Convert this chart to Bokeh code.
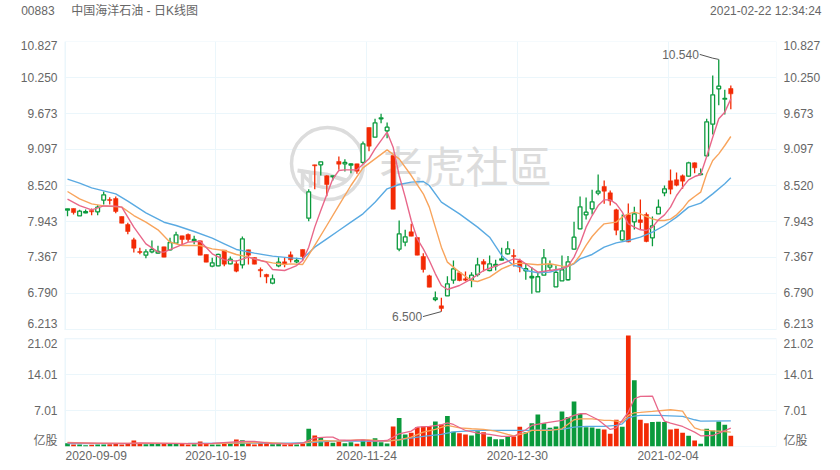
import numpy as np
from bokeh.plotting import figure
from bokeh.models import (Range1d, LinearAxis, FixedTicker, Grid, Label)
from bokeh.core.properties import value
from bokeh.embed import file_html
from bokeh.resources import INLINE

opens = [8.125,8.152,8.034,8.082,8.119,8.098,8.285,8.296,8.312,8.023,7.895,7.649,7.463,7.404,7.457,7.436,7.537,7.489,7.596,7.714,7.735,7.633,7.633,7.415,7.228,7.233,7.484,7.265,7.265,7.249,7.489,7.366,7.174,7.094,6.955,7.233,7.297,7.409,7.297,7.495,
7.997,8.851,8.851,8.675,8.664,8.905,8.867,8.846,8.867,8.889,9.449,9.294,9.588,9.396,9.001,7.500,7.612,7.778,7.687,7.383,7.073,6.694,6.592,6.753,7.004,7.121,7.025,7.004,7.094,7.303,7.158,7.233,7.324,7.425,7.399,7.313,7.154,7.042,6.817,7.084,7.212,6.897,6.993,7.010,
7.500,7.826,8.050,8.146,8.397,8.504,8.402,8.130,7.649,8.050,7.938,7.970,8.055,7.681,8.066,8.402,8.595,8.611,8.675,8.669,8.883,8.696,8.995,9.502,10.069,9.903,10.074]
highs = [8.146,8.152,8.130,8.135,8.152,8.205,8.424,8.333,8.344,8.023,7.922,7.681,7.521,7.500,7.639,7.553,7.537,7.681,7.778,7.714,7.751,7.714,7.633,7.415,7.361,7.425,7.484,7.383,7.319,7.703,7.489,7.366,7.206,7.105,7.094,7.372,7.372,7.463,7.361,7.495,
8.461,8.851,8.899,8.686,8.675,8.985,8.942,8.878,8.867,9.225,9.449,9.588,9.668,9.529,9.001,7.959,7.810,7.906,7.687,7.436,7.089,6.822,6.720,7.068,7.319,7.148,7.142,7.132,7.361,7.340,7.399,7.329,7.522,7.628,7.500,7.345,7.266,7.212,7.132,7.501,7.319,7.239,7.399,7.389,
7.938,8.344,8.328,8.450,8.696,8.600,8.440,8.146,8.055,8.232,8.178,8.296,8.087,8.023,8.296,8.520,8.776,8.728,8.696,8.899,8.888,8.792,9.588,10.282,10.540,10.052,10.122]
lows = [8.029,8.055,8.034,8.077,8.045,8.045,8.216,8.216,8.077,7.916,7.740,7.447,7.420,7.356,7.436,7.425,7.372,7.479,7.585,7.575,7.617,7.580,7.404,7.292,7.212,7.228,7.228,7.260,7.131,7.190,7.254,7.260,7.051,6.955,6.939,7.212,7.212,7.286,7.276,7.319,
7.949,8.461,8.680,8.349,8.600,8.771,8.744,8.718,8.707,8.867,9.070,9.294,9.519,9.278,8.141,7.468,7.548,7.708,7.404,7.126,6.891,6.667,6.500,6.753,6.945,6.987,6.987,6.891,7.062,7.142,7.148,7.158,7.319,7.415,7.222,7.132,7.010,6.785,6.817,7.084,7.148,6.897,6.993,7.000,
7.489,7.820,7.975,8.055,8.365,8.226,8.199,7.724,7.639,7.612,7.815,7.820,7.612,7.548,8.066,8.349,8.381,8.509,8.467,8.664,8.717,8.685,8.985,9.337,9.807,9.657,9.743]
closes = [8.146,8.087,8.109,8.103,8.098,8.173,8.370,8.280,8.103,7.916,7.783,7.516,7.447,7.457,7.495,7.463,7.372,7.607,7.730,7.655,7.655,7.655,7.404,7.292,7.281,7.415,7.260,7.340,7.148,7.666,7.404,7.260,7.153,7.057,7.025,7.292,7.254,7.329,7.319,7.383,
8.419,8.835,8.899,8.536,8.675,8.862,8.889,8.867,8.750,9.188,9.150,9.524,9.604,9.455,8.141,7.746,7.698,7.708,7.404,7.174,6.891,6.720,6.550,6.945,7.185,6.998,7.004,7.084,7.249,7.260,7.265,7.255,7.345,7.505,7.383,7.212,7.186,7.063,7.058,7.362,7.250,7.127,7.170,7.298,
7.692,8.178,8.093,8.258,8.429,8.429,8.274,7.804,7.794,7.617,8.066,7.927,7.623,7.874,8.173,8.467,8.461,8.525,8.589,8.883,8.803,8.707,9.540,9.972,10.111,9.914,9.988]
volume = [0.65,0.39,0.39,0.26,0.33,0.39,0.39,0.46,0.52,0.39,0.52,1.17,0.52,0.46,0.52,0.65,0.52,0.52,0.52,0.52,0.39,0.46,0.98,0.52,0.39,0.39,0.52,0.52,1.37,1.24,0.65,0.39,0.65,0.65,0.46,0.52,0.39,0.52,0.39,0.52,
3.46,2.15,1.70,0.91,0.72,1.04,0.65,0.85,0.52,1.30,0.98,1.63,0.85,0.59,3.91,5.54,2.35,2.67,3.78,3.91,3.98,4.89,4.30,5.93,2.87,2.61,2.35,2.15,3.00,2.80,1.89,1.43,1.43,1.83,1.96,3.85,2.80,4.56,6.26,4.56,3.65,3.91,6.85,5.74,
8.80,6.39,3.78,3.72,3.46,3.33,2.48,5.22,3.85,21.65,12.91,5.22,4.56,4.76,4.82,4.76,3.33,3.46,2.67,2.09,1.17,0.52,3.46,3.13,4.89,4.24,2.09]

ma5_idx = [0,2,4,6,8,9,11,13,15,16,18,20,22,24,26,28,30,33,34,36,37,38,39,40,41,42,43,44,45,46,48,50,51,53,54,55,56,57,58,59,60,61,62,63,65,67,69,72,74,75,76,78,80,82,83,84,85,86,87,88,89,90,91,92,93,94,95,96,97,98,99,100,101,102,103,104,105,106,107,108,109,110]
ma5 = [8.301,8.199,8.130,8.194,8.189,8.173,7.852,7.585,7.457,7.452,7.532,7.612,7.628,7.425,7.329,7.308,7.372,7.292,7.174,7.158,7.196,7.238,7.319,7.532,7.853,8.120,8.376,8.627,8.760,8.771,8.771,8.947,9.107,9.374,9.134,8.680,8.333,7.959,7.666,7.505,7.319,7.105,6.918,6.854,6.918,7.025,7.158,7.265,7.345,7.330,7.266,7.132,7.159,7.186,7.228,7.373,7.586,7.852,8.039,8.199,8.290,8.290,8.226,8.093,7.906,7.852,7.810,7.799,7.852,7.970,8.050,8.173,8.360,8.493,8.611,8.664,8.696,8.985,9.294,9.588,9.695,9.908]
ma10_idx = [0,2,4,6,9,11,13,15,17,19,22,24,26,28,30,32,34,36,37,39,41,43,45,47,49,51,53,55,57,59,60,61,62,63,65,67,68,70,72,74,75,78,80,82,83,84,85,86,87,88,89,91,92,93,94,95,96,97,98,99,100,101,102,103,104,105,106,107,108,109,110]
ma10 = [8.424,8.306,8.226,8.194,8.173,8.039,7.932,7.810,7.612,7.559,7.559,7.505,7.479,7.415,7.372,7.319,7.281,7.254,7.265,7.255,7.559,7.879,8.200,8.520,8.803,8.947,9.091,8.947,8.680,8.387,8.173,7.853,7.532,7.292,7.132,6.998,6.982,7.052,7.185,7.265,7.276,7.250,7.266,7.228,7.223,7.276,7.399,7.559,7.703,7.810,7.906,7.933,8.013,8.066,8.093,8.066,8.023,7.986,7.959,7.959,7.981,8.050,8.146,8.269,8.344,8.413,8.707,8.920,9.027,9.161,9.305]
ma20_idx = [0,2,4,6,8,10,13,16,18,21,24,26,28,31,34,37,39,41,43,45,47,49,51,53,55,57,59,60,62,65,68,70,72,74,75,76,78,80,82,84,85,87,89,91,93,95,97,99,101,103,105,107,109,110]
ma20 = [8.621,8.557,8.483,8.435,8.386,8.269,8.082,7.932,7.879,7.783,7.676,7.585,7.495,7.436,7.388,7.361,7.345,7.532,7.666,7.799,7.933,8.066,8.253,8.467,8.536,8.574,8.584,8.520,8.253,8.066,7.853,7.692,7.399,7.238,7.223,7.158,7.122,7.132,7.186,7.266,7.345,7.415,7.532,7.601,7.639,7.692,7.772,7.879,8.013,8.173,8.237,8.386,8.547,8.643]

vma5_idx = [0,10,12,20,24,29,31,34,37,39,41,43,44,45,47,49,51,53,55,57,58,60,62,63,64,66,68,70,72,74,76,77,79,82,84,85,86,88,90,91,92,93,94,95,97,98,99,100,102,104,105,107,108,110]
vma5 = [0.70,0.60,0.70,0.55,0.60,1.00,1.00,0.55,0.52,0.65,1.70,1.83,1.83,1.30,1.17,1.30,1.04,1.17,2.48,3.00,3.78,3.91,4.24,4.63,4.30,3.13,2.61,2.35,1.96,1.96,3.26,4.11,4.56,5.09,6.06,6.39,6.39,5.22,3.33,3.65,5.09,6.72,9.32,9.78,9.85,7.04,4.96,4.56,3.91,2.80,2.09,2.15,2.61,3.59]
vma10_idx = [0,5,16,24,29,33,37,39,42,45,48,50,53,55,57,59,61,63,65,67,69,71,73,74,76,77,80,82,84,85,87,89,90,91,92,93,94,95,97,100,102,103,104,105,107,108,110]
vma10 = [0.80,0.60,0.60,0.55,0.70,0.80,0.52,0.65,1.17,1.04,1.30,1.30,1.04,1.30,1.83,2.80,3.33,4.11,3.65,3.46,3.33,3.00,2.35,2.09,2.61,3.13,3.13,3.46,5.22,5.41,5.41,5.09,5.09,4.96,4.76,6.06,6.59,6.65,6.85,7.17,6.91,5.09,3.65,3.26,3.06,3.00,2.80]
vma20_idx = [0,20,30,37,40,44,48,53,56,59,62,64,68,72,76,77,82,84,86,89,91,92,93,94,95,98,102,104,105,110]
vma20 = [0.55,0.60,0.65,0.65,0.78,1.04,1.04,1.04,1.50,1.96,2.35,2.87,3.13,3.13,3.13,3.13,3.33,3.78,3.91,3.91,4.11,4.43,5.61,5.93,6.06,6.06,5.87,5.22,4.96,5.02]

price_ticks = [10.827,10.250,9.673,9.097,8.520,7.943,7.367,6.790,6.213]
price_labels = ["10.827","10.250","9.673","9.097","8.520","7.943","7.367","6.790","6.213"]
vol_ticks = [21.02,14.01,7.01]
vol_labels = ["21.02","14.01","7.01"]
date_ticks = [0,25,50,75,100]
date_labels = ["2020-09-09","2020-10-19","2020-11-24","2020-12-30","2021-02-04"]
header_left = "00883\u00a0\u00a0\u00a0\u00a0\u00a0中国海洋石油 - 日K线图"
header_right = "2021-02-22 12:34:24"

RED, GREEN = "#f32a05", "#0a9a3c"
PINK, ORANGE, BLUE = "#e8678a", "#f8a45c", "#5aaae2"
GRIDC, TXT = "#ebf6fb", "#666666"
FONT = "Liberation Sans, Noto Sans CJK SC"

n = len(opens)
xs = np.arange(n)
o, h, l, c, vol = map(np.array, (opens, highs, lows, closes, volume))
up = c >= o

# The frame spans both panes; each pane has its own y range.
FRAME_H = 405
PX = 4.614 / 288
VPX = 21.02 / 107.7
price_top = 10.827
price_bot = price_top - FRAME_H * PX
to_price = lambda v: round(price_top - (FRAME_H - v / VPX) * PX, 4)
xstep = 6.03

p = figure(width=840, height=470, output_backend="svg", toolbar_location=None,
           x_range=Range1d(-0.5, -0.5 + 712 / xstep),
           y_range=Range1d(price_bot, price_top),
           min_border_left=64, min_border_right=64, min_border_top=41, min_border_bottom=24,
           frame_width=712, frame_height=FRAME_H,
           x_axis_type=None, y_axis_type=None,
           outline_line_color=None, background_fill_color="white", border_fill_color="white",
           styles={"position": "absolute", "left": "0px", "top": "0px"})
p.extra_y_ranges = {"vol": Range1d(0, FRAME_H * VPX)}

gx = [t - 0.4 for t in date_ticks]
vt = [to_price(v) for v in vol_ticks]
grid_ticks = price_ticks + vt + [to_price(0)]

# Tick labels: the outermost ones of a pane sit a few pixels inside it.
label_pos = {t: t for t in price_ticks}
label_pos[price_ticks[0]] = round(price_ticks[0] - 5 * PX, 4)
label_pos[price_ticks[-1]] = round(price_ticks[-1] + 6 * PX, 4)
y_over = {label_pos[t]: s for t, s in zip(price_ticks, price_labels)}
vlab = [round(vt[0] - 5 * PX, 4)] + vt[1:]
y_over.update(dict(zip(vlab, vol_labels)))
unit_pos = to_price(5 * VPX)          # row of the 亿股 unit
y_over[unit_pos] = "亿股"
axis_ticks = list(y_over.keys())

p.add_layout(Grid(dimension=1, ticker=FixedTicker(ticks=grid_ticks), grid_line_color=GRIDC, grid_line_width=1))
p.add_layout(Grid(dimension=0, ticker=FixedTicker(ticks=gx), grid_line_color=GRIDC, grid_line_width=1))

for side in ("left", "right"):
    ax = LinearAxis(ticker=FixedTicker(ticks=axis_ticks), major_label_overrides=y_over,
                    axis_line_color=None, major_tick_line_color=None, minor_tick_line_color=None,
                    major_tick_out=0, major_tick_in=0,
                    major_label_text_font=FONT, major_label_text_font_size="12px",
                    major_label_text_color=TXT, major_label_standoff=7)
    p.add_layout(ax, side)

# date row: the first date is left-aligned with the frame, so its tick is moved to half its width in
first_date_tick = 4.76
xa_ticks = [first_date_tick] + gx[1:]
xa = LinearAxis(ticker=FixedTicker(ticks=xa_ticks), major_label_overrides=dict(zip(xa_ticks, date_labels)),
                axis_line_color=None, major_tick_line_color=None, minor_tick_line_color=None,
                major_tick_out=0, major_tick_in=0,
                major_label_text_font=FONT, major_label_text_font_size="12px",
                major_label_text_color=TXT, major_label_standoff=4)
p.add_layout(xa, "below")

# header row, drawn by an axis above the frame
head_ticks = [6.97, 115.8]
head_over = dict(zip(head_ticks, [header_left, header_right]))
ha = LinearAxis(ticker=FixedTicker(ticks=head_ticks), major_label_overrides=head_over,
                axis_line_color=None, major_tick_line_color=None, minor_tick_line_color=None,
                major_tick_out=0, major_tick_in=0,
                major_label_text_font=FONT, major_label_text_font_size="12px",
                major_label_text_color=TXT, major_label_standoff=24)
p.add_layout(ha, "above")

# gap between panes, and the pane frames
xl, xr = -0.5, -0.5 + 712 / xstep
gap_top, gap_bot = 6.213 - 0.5 * PX, 6.213 - 8.7 * PX
p.quad(left=[xl], right=[xr], top=[gap_top], bottom=[gap_bot], fill_color="white", line_color=None)
p.quad(left=[xl], right=[xr], top=[10.827], bottom=[6.213], fill_color=None, line_color=GRIDC)
p.quad(left=[xl], right=[xr], top=[to_price(21.02)], bottom=[to_price(0)], fill_color=None, line_color=GRIDC)

# watermark
WM = "#dcdcdc"
wx = lambda px: (np.asarray(px, float) - 67) / xstep
wy = lambda py: price_top - (np.asarray(py, float) - 41) * PX
cx, cy, R = 327, 163, 36
p.scatter(wx([cx]), wy([cy]), size=2 * R, marker="circle", fill_color=None, line_color=WM, line_width=3.5)
ang = np.radians(np.linspace(195, 345, 40))
p.line(wx(cx + 27 * np.cos(ang)), wy(cy - 24 * np.sin(ang)), line_color=WM, line_width=3.5)
p.line(wx([297, 310, 326, 346]), wy([170, 172, 174, 180]), line_color=WM, line_width=4)
for dx in (-25, -17, -9):
    p.line(wx([cx + dx, cx + dx]), wy([172, 187]), line_color=WM, line_width=3.5)
p.text(wx([379]), wy([163]), text=["老虎社區"], text_font=value("Noto Sans CJK TC"), text_font_size="43px",
       text_color=WM, text_baseline="middle", text_align="left")

# volume bars
p.vbar(xs[up], width=0.78, top=vol[up], bottom=0, fill_color=GREEN, line_color=None, y_range_name="vol")
p.vbar(xs[~up], width=0.78, top=vol[~up], bottom=0, fill_color=RED, line_color=None, y_range_name="vol")
for idx, vals, col in ((vma20_idx, vma20, BLUE), (vma10_idx, vma10, ORANGE), (vma5_idx, vma5, PINK)):
    p.line(idx, vals, line_color=col, line_width=1.3, y_range_name="vol")

# candles
p.segment(xs[up], l[up], xs[up], h[up], line_color=GREEN, line_width=1.3)
p.segment(xs[~up], l[~up], xs[~up], h[~up], line_color=RED, line_width=1.3)
p.vbar(xs[up], width=0.62, top=c[up], bottom=o[up], fill_color="white", line_color=GREEN, line_width=1.3)
p.vbar(xs[~up], width=0.72, top=o[~up], bottom=c[~up], fill_color=RED, line_color=RED, line_width=0.5)
for idx, vals, col in ((ma20_idx, ma20, BLUE), (ma10_idx, ma10, ORANGE), (ma5_idx, ma5, PINK)):
    p.line(idx, vals, line_color=col, line_width=1.4)

# high / low call-outs
hi, lo = int(np.argmax(h)), int(np.argmin(l))
p.line([hi - 3.15, hi - 1, hi], [h[hi] + 0.08, h[hi] + 0.02, h[hi]], line_color="#555555", line_width=1)
p.line([lo - 3.05, lo], [l[lo] - 0.08, l[lo]], line_color="#555555", line_width=1)
p.add_layout(Label(x=hi - 3.3, y=h[hi] + 0.08, text=f"{h[hi]:.3f}", text_align="right", text_baseline="middle",
                   text_font=FONT, text_font_size="12px", text_color=TXT))
p.add_layout(Label(x=lo - 3.2, y=l[lo] - 0.08, text=f"{l[lo]:.3f}", text_align="right", text_baseline="middle",
                   text_font=FONT, text_font_size="12px", text_color=TXT))

open("out.html", "w").write(file_html(p, INLINE))
